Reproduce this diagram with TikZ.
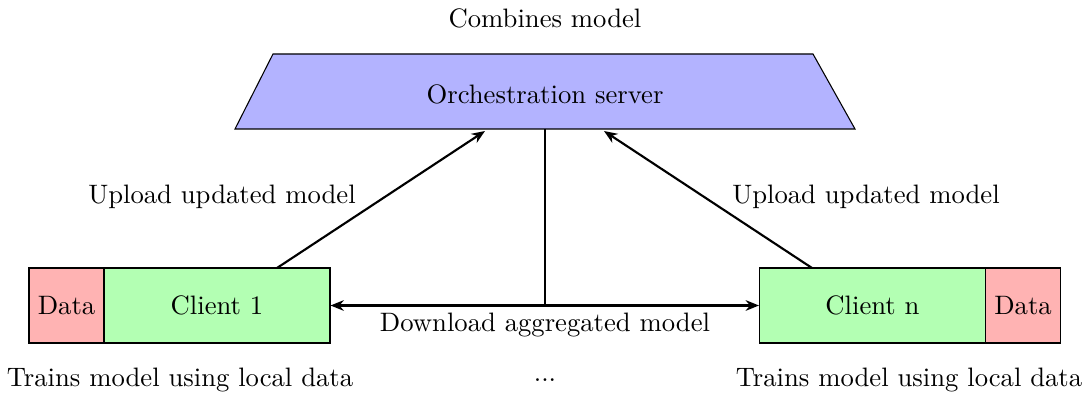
\documentclass[tikz,border=0pt]{standalone}
\usetikzlibrary{arrows.meta}
\definecolor{serverblue}{RGB}{179,179,255}
\definecolor{clientgreen}{RGB}{179,255,179}
\definecolor{datared}{RGB}{255,179,179}
\tikzset{
  conn/.style={thick,-{Stealth[length=5pt,width=4pt]}},
  plainline/.style={thick},
  boxc/.style={draw,fill=clientgreen,minimum width=226*0.375pt,minimum height=75*0.375pt,inner sep=0pt},
  boxd/.style={draw,fill=datared,minimum width=75*0.375pt,minimum height=75*0.375pt,inner sep=0pt},
  lbl/.style={inner sep=1pt}
}
\begin{document}
\begin{tikzpicture}[x=0.375pt,y=-0.375pt]
\useasboundingbox (0,0) rectangle (1086,395);
% server
\draw[fill=serverblue] (273,54) -- (813,54) -- (855,129) -- (235,129) -- cycle;
\node[lbl] (server) at (545,94) {Orchestration server};
\node[lbl] (comb) at (545,18) {Combines model};
\coordinate (sb) at (545,129);
\coordinate (sl) at (485,131);
\coordinate (sr) at (604,131);
% clients
\node[boxc] (c1) at (217,305.5) {Client 1};
\node[boxd] (d1) at (66.5,305.5) {Data};
\node[boxc] (cn) at (872.5,305.5) {Client n};
\node[boxd] (dn) at (1023,305.5) {Data};
\node[lbl] (t1) at (180,380) {Trains model using local data};
\node[lbl] (tn) at (909,380) {Trains model using local data};
\node[lbl] (dots) at (545,380) {...};
% connectors
\coordinate (j) at (545,305.5);
\draw[plainline] (sb) -- (j);
\draw[conn] (j) -- (c1.east);
\draw[conn] (j) -- (cn.west);
\node[lbl] (dl) at (545,325) {Download aggregated model};
\coordinate (u1) at (277,268);
\coordinate (un) at (812,268);
\draw[conn] (u1) -- (sl);
\draw[conn] (un) -- (sr);
\node[lbl] (ul1) at (222,197) {Upload updated model};
\node[lbl] (uln) at (866,197) {Upload updated model};
\end{tikzpicture}
\end{document}
